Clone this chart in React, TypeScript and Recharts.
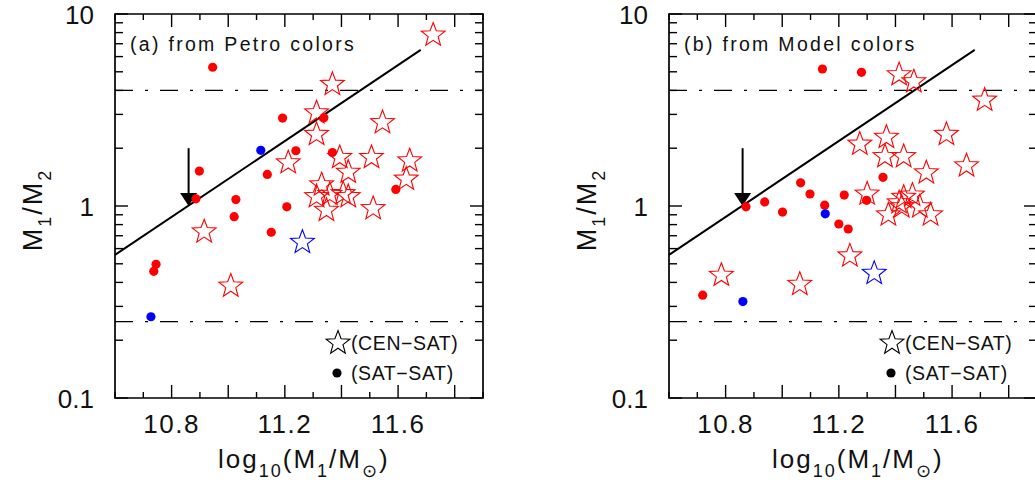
import { ScatterChart, Scatter, XAxis, YAxis, ReferenceLine, ReferenceArea, Customized } from 'recharts';

// axis ticks
const xTicks = [10.6, 10.7, 10.8, 10.9, 11.0, 11.1, 11.2, 11.3, 11.4, 11.5, 11.6, 11.7, 11.8, 11.9];
const xMajorTicks = [10.8, 11.0, 11.2, 11.4, 11.6, 11.8];
const xLabelTicks = [10.8, 11.2, 11.6];
const yTicks = [0.1, 0.2, 0.3, 0.4, 0.5, 0.6, 0.7, 0.8, 0.9, 1, 2, 3, 4, 5, 6, 7, 8, 9, 10];
const yLabelTicks = [0.1, 1, 10];

// model line, arrow and limits (same in both panels)
const fitLineX = [10.6, 11.68];
const fitLineY = [0.556, 6.5];
const arrowX = 10.86;
const arrowFromY = 2.0;
const arrowToY = 1.0;
const upperLimit = 4;
const lowerLimit = 0.25;

// (a) Petro colors
const petroSatRedX = [10.945, 11.192, 11.239, 11.338, 11.368, 10.898, 11.138, 10.886, 11.027, 11.207, 11.021, 11.152, 11.592, 10.745, 10.737];
const petroSatRedY = [5.28, 2.87, 1.94, 2.88, 1.9, 1.52, 1.46, 1.09, 1.08, 0.99, 0.88, 0.73, 1.22, 0.497, 0.457];
const petroSatBlueX = [11.115, 10.727];
const petroSatBlueY = [1.95, 0.265];
const petroCenRedX = [11.724, 11.368, 11.312, 11.312, 11.545, 11.212, 11.394, 11.424, 11.506, 11.641, 11.629, 11.33, 11.312, 11.359, 11.406, 11.424, 11.347, 11.512, 10.915, 11.009];
const petroCenRedY = [7.77, 4.3, 3.06, 2.36, 2.72, 1.68, 1.79, 1.5, 1.79, 1.72, 1.38, 1.29, 1.12, 1.15, 1.16, 1.12, 0.95, 0.97, 0.734, 0.383];
const petroCenBlueX = [11.262];
const petroCenBlueY = [0.647];

// (b) Model colors
const modelSatRedX = [11.142, 11.28, 11.356, 11.065, 11.098, 11.219, 11.298, 10.872, 10.938, 11.001, 11.15, 11.2, 11.233, 10.719];
const modelSatRedY = [5.17, 4.97, 1.41, 1.32, 1.155, 1.14, 1.07, 0.99, 1.05, 0.93, 1.01, 0.806, 0.759, 0.343];
const modelSatBlueX = [11.152, 10.861];
const modelSatBlueY = [0.91, 0.318];
const modelCenRedX = [11.413, 11.465, 11.715, 11.274, 11.368, 11.58, 11.363, 11.429, 11.651, 11.509, 11.3, 11.413, 11.429, 11.46, 11.422, 11.486, 11.375, 11.524, 11.239, 10.785, 11.062];
const modelCenRedY = [4.83, 4.44, 3.56, 2.1, 2.28, 2.36, 1.81, 1.81, 1.62, 1.49, 1.155, 1.04, 1.11, 1.14, 0.99, 0.99, 0.9, 0.9, 0.55, 0.436, 0.391];
const modelCenBlueX = [11.325];
const modelCenBlueY = [0.446];

const W = 500;
const H = 485;
const PLOT_L = 115;
const PLOT_R = 483;
const PLOT_T = 14;
const PLOT_B = 398;
const FONT = '"Liberation Sans", Arial, sans-serif';
const INK = '#111';

const toPoints = (xs: number[], ys: number[]) => xs.map((x, i) => ({ x, y: ys[i] }));
const isIn = (v: number, list: number[]) => list.some((t) => Math.abs(t - v) < 1e-6);

function starPath(cx: number, cy: number, R: number) {
  const r = R * 0.42;
  let d = '';
  for (let i = 0; i < 10; i++) {
    const rad = i % 2 === 0 ? R : r;
    const a = -Math.PI / 2 + (i * Math.PI) / 5;
    d += (i === 0 ? 'M' : 'L') + (cx + rad * Math.cos(a)).toFixed(2) + ',' + (cy + rad * Math.sin(a)).toFixed(2);
  }
  return d + 'Z';
}

const makeStar = (color: string) => (props: any) => (
  <path d={starPath(props.cx, props.cy, 12.5)} fill="none" stroke={color} strokeWidth={1.1} />
);
const makeDot = (color: string) => (props: any) => <circle cx={props.cx} cy={props.cy} r={4.6} fill={color} />;
const arrowHead = (props: any) => (
  <path d={`M${props.cx - 8.5},${props.cy - 13}L${props.cx + 8.5},${props.cy - 13}L${props.cx},${props.cy}Z`} fill="#000" />
);

function XTick(props: any) {
  const { x, payload } = props;
  const v = payload.value;
  const len = isIn(v, xMajorTicks) ? 13 : 6;
  return (
    <g>
      <line x1={x} x2={x} y1={PLOT_B} y2={PLOT_B - len} stroke="#000" strokeWidth={1.4} />
      <line x1={x} x2={x} y1={PLOT_T} y2={PLOT_T + len} stroke="#000" strokeWidth={1.4} />
      {isIn(v, xLabelTicks) && (
        <text x={x} y={433} textAnchor="middle" fontFamily={FONT} fontSize={26} letterSpacing={1.5} fill={INK}>
          {v.toFixed(1)}
        </text>
      )}
    </g>
  );
}

function YTick(props: any) {
  const { y, payload } = props;
  const v = payload.value;
  const len = isIn(v, yLabelTicks) ? 13 : 8;
  return (
    <g>
      <line x1={PLOT_L} x2={PLOT_L + len} y1={y} y2={y} stroke="#000" strokeWidth={1.4} />
      <line x1={PLOT_R} x2={PLOT_R - len} y1={y} y2={y} stroke="#000" strokeWidth={1.4} />
      {isIn(v, yLabelTicks) && (
        <text x={94} y={y + 9.5} textAnchor="end" fontFamily={FONT} fontSize={26} fill={INK}>
          {String(v)}
        </text>
      )}
    </g>
  );
}

function Decorations({ title }: { title: string }) {
  return (
    <g fontFamily={FONT} fill={INK}>
      <text x={130} y={51} fontSize={19.5} letterSpacing={2.3}>{title}</text>
      <path d={starPath(338, 343, 12.5)} fill="none" stroke="#000" strokeWidth={1.1} />
      <text x={351} y={350} fontSize={19.5} letterSpacing={0.6}>(CEN−SAT)</text>
      <circle cx={337} cy={373} r={4.6} fill="#000" />
      <text x={351} y={380} fontSize={19.5} letterSpacing={0.6}>(SAT−SAT)</text>
      <text x={218} y={468} fontSize={26} letterSpacing={2}>
        log<tspan fontSize={18} dy={9}>10</tspan>
        <tspan dy={-9}>(M</tspan>
        <tspan fontSize={18} dy={9}>1</tspan>
        <tspan dy={-9}>/M</tspan>
        <tspan fontSize={18} dy={9}>⊙</tspan>
        <tspan dy={-9}>)</tspan>
      </text>
      <text x={0} y={0} fontSize={27} letterSpacing={2} textAnchor="middle" transform="translate(42,210) rotate(-90)">
        M<tspan fontSize={18} dy={9}>1</tspan>
        <tspan dy={-9}>/M</tspan>
        <tspan fontSize={18} dy={9}>2</tspan>
      </text>
    </g>
  );
}

interface PanelProps {
  title: string;
  satRed: { x: number; y: number }[];
  satBlue: { x: number; y: number }[];
  cenRed: { x: number; y: number }[];
  cenBlue: { x: number; y: number }[];
}

function Panel({ title, satRed, satBlue, cenRed, cenBlue }: PanelProps) {
  return (
    <ScatterChart width={W} height={H} margin={{ top: PLOT_T, right: W - PLOT_R, bottom: 0, left: 0 }}>
      <XAxis
        type="number"
        dataKey="x"
        domain={[10.6, 11.9]}
        ticks={xTicks}
        interval={0}
        allowDataOverflow
        height={H - PLOT_B}
        axisLine={false}
        tickLine={false}
        tick={<XTick />}
      />
      <YAxis
        type="number"
        dataKey="y"
        scale="log"
        domain={[0.1, 10]}
        ticks={yTicks}
        interval={0}
        allowDataOverflow
        width={PLOT_L}
        axisLine={false}
        tickLine={false}
        tick={<YTick />}
      />
      <ReferenceArea x1={10.6} x2={11.9} y1={0.1} y2={10} fill="none" stroke="#000" strokeWidth={1.7} ifOverflow="visible" />
      <ReferenceLine y={upperLimit} stroke="#000" strokeWidth={1.3} strokeDasharray="18 12 3 12" />
      <ReferenceLine y={lowerLimit} stroke="#000" strokeWidth={1.3} strokeDasharray="18 12 3 12" />
      <ReferenceLine
        segment={[{ x: fitLineX[0], y: fitLineY[0] }, { x: fitLineX[1], y: fitLineY[1] }]}
        stroke="#000"
        strokeWidth={2}
      />
      <ReferenceLine
        segment={[{ x: arrowX, y: arrowFromY }, { x: arrowX, y: arrowToY * 1.1 }]}
        stroke="#000"
        strokeWidth={2}
      />
      <Scatter data={[{ x: arrowX, y: arrowToY }]} shape={arrowHead} isAnimationActive={false} />
      <Scatter data={satRed} shape={makeDot('#ff0000')} isAnimationActive={false} />
      <Scatter data={satBlue} shape={makeDot('#0000ff')} isAnimationActive={false} />
      <Scatter data={cenRed} shape={makeStar('#ff0000')} isAnimationActive={false} />
      <Scatter data={cenBlue} shape={makeStar('#0000ff')} isAnimationActive={false} />
      <Customized component={() => <Decorations title={title} />} />
    </ScatterChart>
  );
}

export default function App() {
  return (
    <div style={{ position: 'absolute', left: 0, top: 0, width: 1035, height: 485, overflow: 'hidden', background: '#fff' }}>
      <div style={{ position: 'absolute', left: 0, top: 0 }}>
        <Panel
          title="(a) from Petro colors"
          satRed={toPoints(petroSatRedX, petroSatRedY)}
          satBlue={toPoints(petroSatBlueX, petroSatBlueY)}
          cenRed={toPoints(petroCenRedX, petroCenRedY)}
          cenBlue={toPoints(petroCenBlueX, petroCenBlueY)}
        />
      </div>
      <div style={{ position: 'absolute', left: 554, top: 0 }}>
        <Panel
          title="(b) from Model colors"
          satRed={toPoints(modelSatRedX, modelSatRedY)}
          satBlue={toPoints(modelSatBlueX, modelSatBlueY)}
          cenRed={toPoints(modelCenRedX, modelCenRedY)}
          cenBlue={toPoints(modelCenBlueX, modelCenBlueY)}
        />
      </div>
    </div>
  );
}
